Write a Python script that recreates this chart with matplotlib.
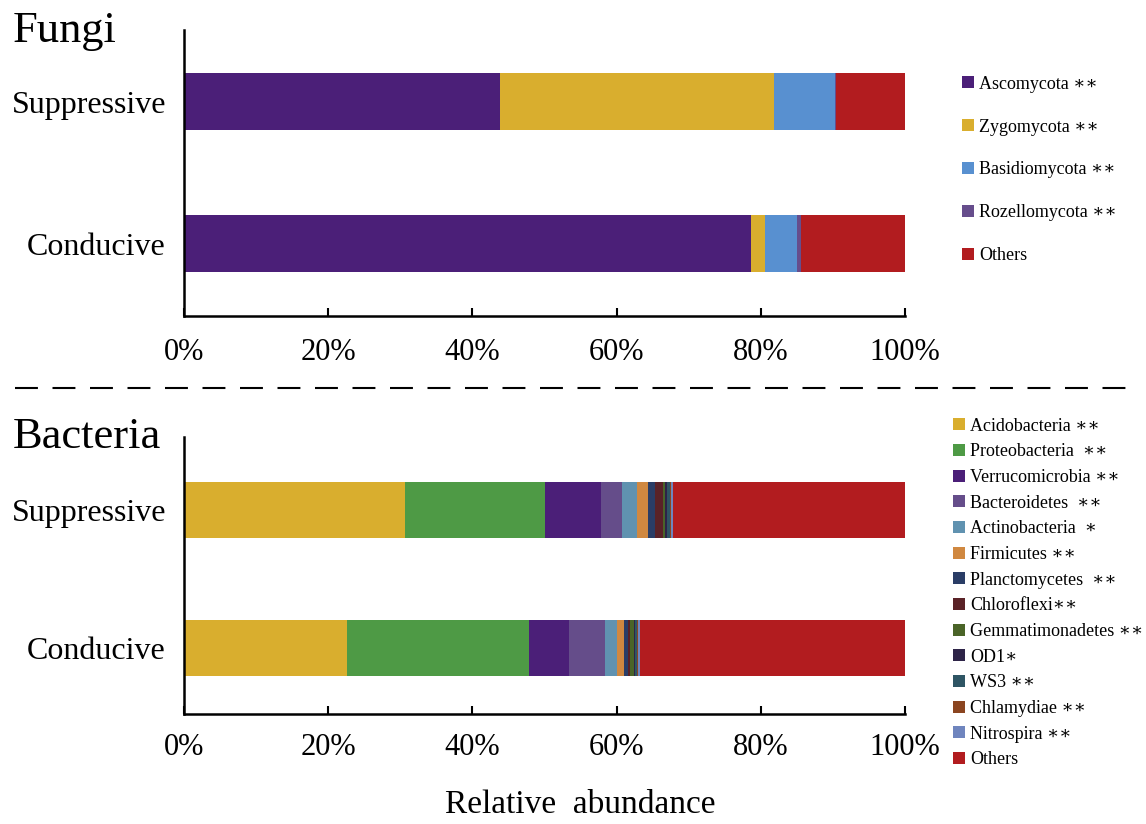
import numpy as np
import matplotlib.pyplot as plt
from matplotlib.patches import Patch
from matplotlib.lines import Line2D

plt.rcParams['font.family'] = ['Liberation Serif', 'DejaVu Serif']

# --- data (relative abundance, %) ---
groups = ['Conducive', 'Suppressive']

fungi_taxa = ['Ascomycota', 'Zygomycota', 'Basidiomycota', 'Rozellomycota', 'Others']
fungi_sig = ['∗∗', '∗∗', '∗∗', '∗∗', '']
fungi_suppressive = [43.8, 38.1, 8.4, 0.1, 9.6]
fungi_conducive = [78.6, 2.0, 4.5, 0.5, 14.4]
fungi_colors = ['#4b1f78', '#d9ae2e', '#5890d0', '#664d8c', '#b21c1f']

bact_taxa = ['Acidobacteria', 'Proteobacteria', 'Verrucomicrobia', 'Bacteroidetes',
             'Actinobacteria', 'Firmicutes', 'Planctomycetes', 'Chloroflexi',
             'Gemmatimonadetes', 'OD1', 'WS3', 'Chlamydiae', 'Nitrospira', 'Others']
bact_sig = [' ∗∗', '  ∗∗', ' ∗∗', '  ∗∗', '  ∗', ' ∗∗', '  ∗∗', '∗∗',
            ' ∗∗', '∗', ' ∗∗', ' ∗∗', ' ∗∗', '']
bact_suppressive = [30.7, 19.4, 7.8, 2.8, 2.1, 1.6, 0.9, 1.1, 0.3, 0.3, 0.4, 0.2, 0.3, 32.1]
bact_conducive = [22.6, 25.2, 5.6, 5.0, 1.7, 1.0, 0.5, 0.3, 0.5, 0.2, 0.3, 0.1, 0.2, 36.8]
bact_colors = ['#d9ae2e', '#4e9a45', '#4b1f78', '#654d8a', '#6092b0', '#d08840',
               '#2a3d66', '#5a2227', '#4a6428', '#2e2448', '#2e5564', '#8b4520',
               '#6f85be', '#b21c1f']

ticks = [0, 20, 40, 60, 80, 100]
tick_labels = ['0%', '20%', '40%', '60%', '80%', '100%']

fig = plt.figure(figsize=(11.46, 8.24), dpi=100)
ax_f = fig.add_axes([0.1606, 0.6165, 0.629, 0.347])
ax_b = fig.add_axes([0.1606, 0.1335, 0.629, 0.336])


def stacked(ax, conducive, suppressive, colors, height, ylim, pad):
    y = np.arange(len(groups))
    left = np.zeros(2)
    for c, s, col in zip(conducive, suppressive, colors):
        vals = np.array([c, s])
        ax.barh(y, vals, left=left, height=height, color=col, edgecolor='none')
        left += vals
    ax.set_xlim(0, 100)
    ax.set_ylim(*ylim)
    ax.set_yticks(y)
    ax.set_yticklabels(groups, fontsize=23)
    ax.set_xticks(ticks)
    ax.set_xticklabels(tick_labels, fontsize=22)
    ax.tick_params(axis='y', length=0, pad=13)
    ax.tick_params(axis='x', direction='in', length=6, width=1.5, pad=pad)
    for side in ['top', 'right']:
        ax.spines[side].set_visible(False)
    for side in ['left', 'bottom']:
        ax.spines[side].set_linewidth(1.8)


stacked(ax_f, fungi_conducive, fungi_suppressive, fungi_colors, 0.40, (-0.51, 1.504), 16)
stacked(ax_b, bact_conducive, bact_suppressive, bact_colors, 0.41, (-0.478, 1.529), 14)

# panel titles
fig.text(0.011, 0.962, 'Fungi', fontsize=32, va='center', ha='left')
fig.text(0.011, 0.47, 'Bacteria', fontsize=32, va='center', ha='left')

# dashed separator
fig.add_artist(Line2D([0.013, 0.995], [0.529, 0.529], color='black', lw=1.5,
                      linestyle=(0, (11, 7))))

fig.text(0.506, 0.023, 'Relative  abundance', fontsize=24, ha='center', va='center')

# legends
f_handles = [Patch(facecolor=c, edgecolor='none') for c in fungi_colors]
f_labels = [t + (' ' + s if s else '') for t, s in zip(fungi_taxa, fungi_sig)]
fig.legend(f_handles, f_labels, loc='upper left', bbox_to_anchor=(0.8394, 0.908),
           frameon=False, fontsize=13, handlelength=0.65, handleheight=0.65,
           handletextpad=0.3, labelspacing=1.43, borderpad=0, borderaxespad=0)

b_handles = [Patch(facecolor=c, edgecolor='none') for c in bact_colors]
b_labels = [t + s for t, s in zip(bact_taxa, bact_sig)]
fig.legend(b_handles, b_labels, loc='upper left', bbox_to_anchor=(0.8316, 0.493),
           frameon=False, fontsize=13, handlelength=0.65, handleheight=0.65,
           handletextpad=0.3, labelspacing=0.48, borderpad=0, borderaxespad=0)

fig.savefig('out.png', dpi=100)
